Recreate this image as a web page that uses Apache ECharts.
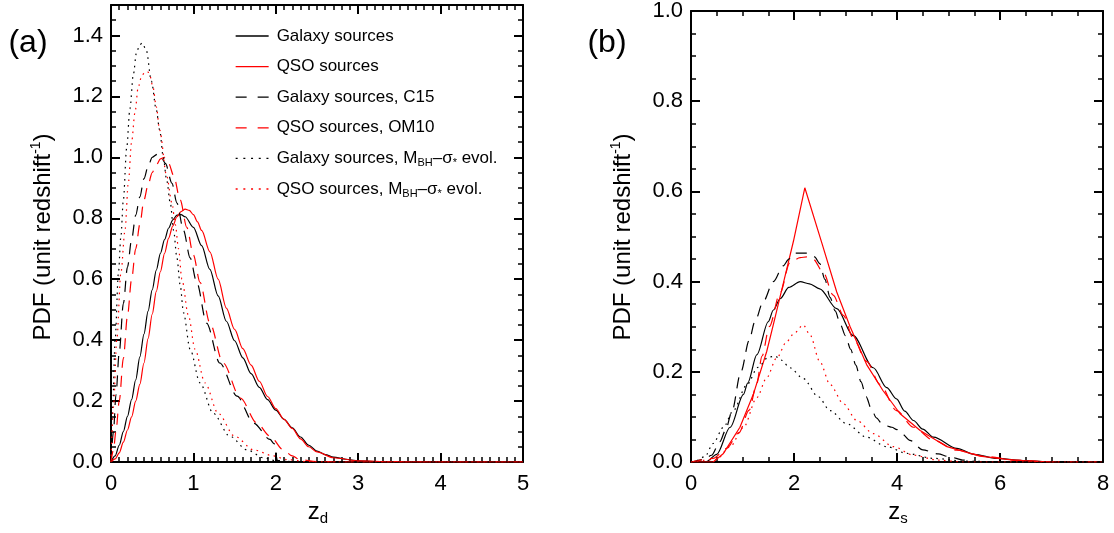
<!DOCTYPE html>
<html>
<head>
<meta charset="utf-8">
<script src="https://cdn.jsdelivr.net/npm/echarts@6/dist/echarts.min.js"></script>
<style>
  html, body { margin: 0; padding: 0; background: #fff; }
  #chart { width: 1114px; height: 533px; }
</style>
</head>
<body>
<div id="chart"></div>
<script>
// ---- Panel (a): lens redshift z_d ----
const galaxyA = [[0,0],[0.05,0.02],[0.1,0.055],[0.15,0.1],[0.2,0.15],[0.25,0.205],[0.3,0.27],[0.35,0.345],[0.4,0.42],[0.45,0.495],[0.5,0.565],[0.55,0.63],[0.6,0.685],[0.65,0.73],[0.7,0.768],[0.75,0.795],[0.8,0.81],[0.85,0.812],[0.9,0.805],[1.0,0.77],[1.1,0.71],[1.2,0.632],[1.3,0.545],[1.4,0.462],[1.5,0.398],[1.6,0.342],[1.7,0.29],[1.8,0.245],[1.9,0.205],[2.0,0.17],[2.1,0.14],[2.2,0.112],[2.3,0.082],[2.4,0.055],[2.5,0.036],[2.6,0.024],[2.7,0.016],[2.85,0.009],[3.0,0.004],[3.3,0.001],[3.6,0],[5,0]];
const qsoA = [[0,0],[0.05,0.01],[0.1,0.03],[0.15,0.065],[0.2,0.105],[0.25,0.148],[0.3,0.2],[0.35,0.255],[0.4,0.325],[0.45,0.405],[0.5,0.485],[0.55,0.56],[0.6,0.625],[0.65,0.685],[0.7,0.735],[0.75,0.775],[0.8,0.805],[0.85,0.822],[0.9,0.83],[0.95,0.826],[1.0,0.812],[1.05,0.788],[1.1,0.76],[1.2,0.69],[1.3,0.6],[1.4,0.505],[1.5,0.435],[1.6,0.372],[1.7,0.318],[1.8,0.265],[1.9,0.215],[2.0,0.175],[2.1,0.14],[2.2,0.11],[2.3,0.076],[2.4,0.05],[2.5,0.033],[2.7,0.014],[3.0,0.004],[3.4,0.001],[3.8,0],[5,0]];
const galaxyC15A = [[0,0],[0.03,0.1],[0.06,0.22],[0.1,0.36],[0.15,0.52],[0.2,0.64],[0.25,0.73],[0.3,0.81],[0.35,0.87],[0.4,0.93],[0.45,0.97],[0.5,1.0],[0.56,1.01],[0.6,1.005],[0.66,0.98],[0.74,0.915],[0.8,0.85],[0.88,0.76],[0.96,0.67],[1.04,0.59],[1.16,0.456],[1.32,0.325],[1.53,0.216],[1.73,0.128],[1.93,0.074],[1.98,0.06],[2.02,0.005],[2.2,0.001],[2.6,0],[5,0]];
const qsoOM10A = [[0,0],[0.03,0.04],[0.06,0.1],[0.1,0.2],[0.15,0.34],[0.2,0.48],[0.25,0.6],[0.3,0.7],[0.35,0.78],[0.4,0.86],[0.45,0.91],[0.5,0.95],[0.55,0.975],[0.6,0.995],[0.65,1.0],[0.7,0.98],[0.76,0.94],[0.84,0.86],[0.92,0.77],[1.0,0.68],[1.08,0.59],[1.2,0.456],[1.36,0.325],[1.57,0.21],[1.77,0.128],[1.93,0.085],[2.09,0.04],[2.2,0.02],[2.29,0.008],[2.5,0.001],[2.8,0],[5,0]];
const galaxyEvoA = [[0,0],[0.02,0.18],[0.05,0.4],[0.09,0.62],[0.12,0.74],[0.15,0.86],[0.19,1.03],[0.23,1.16],[0.27,1.27],[0.31,1.345],[0.35,1.37],[0.38,1.375],[0.43,1.35],[0.49,1.25],[0.55,1.156],[0.59,1.09],[0.635,1.0],[0.675,0.926],[0.72,0.85],[0.76,0.76],[0.8,0.67],[0.84,0.58],[0.88,0.49],[0.96,0.37],[1.08,0.26],[1.24,0.16],[1.44,0.085],[1.65,0.04],[1.85,0.014],[2.0,0.004],[2.3,0],[5,0]];
const qsoEvoA = [[0,0],[0.03,0.18],[0.07,0.4],[0.12,0.62],[0.17,0.76],[0.21,0.915],[0.25,1.05],[0.29,1.145],[0.33,1.23],[0.37,1.265],[0.41,1.28],[0.45,1.28],[0.47,1.27],[0.51,1.23],[0.55,1.166],[0.59,1.09],[0.675,0.94],[0.74,0.85],[0.78,0.78],[0.82,0.7],[0.86,0.6],[0.94,0.48],[1.02,0.37],[1.14,0.26],[1.3,0.16],[1.5,0.085],[1.73,0.04],[1.97,0.02],[2.13,0.008],[2.4,0.001],[2.7,0],[5,0]];

// ---- Panel (b): source redshift z_s ----
const galaxyB = [[0,0],[0.3,0.001],[0.5,0.017],[0.76,0.077],[1.02,0.15],[1.1,0.175],[1.28,0.238],[1.5,0.311],[1.6,0.337],[1.73,0.362],[1.9,0.387],[2.12,0.4],[2.3,0.395],[2.5,0.384],[2.83,0.34],[3.15,0.28],[3.54,0.209],[3.8,0.165],[3.99,0.14],[4.15,0.113],[4.32,0.092],[4.5,0.073],[4.71,0.055],[5.16,0.03],[5.5,0.017],[5.94,0.008],[6.5,0.003],[7,0],[8,0]];
const qsoB = [[0,0],[0.43,0],[0.63,0.019],[0.95,0.077],[1.21,0.15],[1.47,0.245],[1.6,0.305],[1.79,0.395],[1.99,0.49],[2.21,0.608],[2.54,0.486],[2.83,0.377],[3.09,0.3],[3.41,0.216],[3.73,0.158],[4.06,0.107],[4.45,0.07],[4.97,0.034],[5.61,0.013],[6.26,0.004],[7,0]];
const galaxyC15B = [[0,0],[0.05,0.001],[0.25,0.006],[0.4,0.015],[0.56,0.045],[0.67,0.07],[0.79,0.11],[0.97,0.2],[1.13,0.27],[1.24,0.311],[1.4,0.355],[1.6,0.4],[1.79,0.435],[1.9,0.45],[2.02,0.463],[2.25,0.463],[2.4,0.455],[2.5,0.44],[2.6,0.405],[2.7,0.365],[2.8,0.335],[2.9,0.305],[3.0,0.28],[3.1,0.25],[3.2,0.215],[3.3,0.178],[3.4,0.145],[3.5,0.118],[3.6,0.098],[3.7,0.086],[3.8,0.08],[3.9,0.077],[4.0,0.072],[4.1,0.062],[4.25,0.048],[4.5,0.027],[4.8,0.018],[5.0,0.012],[5.3,0.004],[5.6,0],[8,0]];
const qsoOM10B = [[0,0],[0.43,0.008],[0.69,0.03],[0.93,0.065],[1.13,0.115],[1.27,0.17],[1.38,0.235],[1.52,0.3],[1.73,0.375],[1.92,0.442],[2.12,0.453],[2.25,0.455],[2.37,0.45],[2.57,0.42],[2.76,0.37],[2.96,0.325],[3.15,0.274],[3.41,0.223],[3.67,0.172],[3.99,0.114],[4.32,0.077],[4.71,0.048],[5.16,0.026],[5.74,0.012],[6.3,0.004],[7,0],[8,0]];
const galaxyEvoB = [[0,0],[0.1,0.003],[0.27,0.012],[0.43,0.041],[0.63,0.077],[0.82,0.114],[1.08,0.17],[1.3,0.21],[1.5,0.232],[1.63,0.235],[1.75,0.226],[1.92,0.209],[2.18,0.185],[2.47,0.145],[2.7,0.114],[3.02,0.085],[3.41,0.055],[3.8,0.034],[4.19,0.019],[4.71,0.008],[5.3,0.002],[6,0],[8,0]];
const qsoEvoB = [[0,0],[0.5,0.006],[0.76,0.034],[1.02,0.077],[1.28,0.143],[1.47,0.187],[1.66,0.23],[1.86,0.267],[2.0,0.285],[2.18,0.304],[2.31,0.282],[2.5,0.223],[2.7,0.172],[2.96,0.129],[3.22,0.092],[3.54,0.063],[3.93,0.034],[4.32,0.015],[4.8,0.004],[5.3,0],[8,0]];

// Legend entries (series names) and their rich-text labels
const seriesNames = [
  'Galaxy sources',
  'QSO sources',
  'Galaxy sources, C15',
  'QSO sources, OM10',
  'Galaxy sources, MBH-sigma evol.',
  'QSO sources, MBH-sigma evol.'
];
const legendLabels = [
  'Galaxy sources',
  'QSO sources',
  'Galaxy sources, C15',
  'QSO sources, OM10',
  'Galaxy sources, M{sub|BH}\u2013\u03c3{sub|*} evol.',
  'QSO sources, M{sub|BH}\u2013\u03c3{sub|*} evol.'
];

// Axis ranges and tick spacing
const zdRange = { max: 5, major: 1, minor: 0.1 };
const zsRange = { max: 8, major: 2, minor: 0.5 };
const pdfRangeA = { max: 1.5, major: 0.2, minor: 0.05 };
const pdfRangeB = { max: 1.0, major: 0.2, minor: 0.05 };

const FONT = "'Liberation Sans', Arial, Helvetica, sans-serif";
const BLACK = '#000000';
const RED = '#ff0000';
const DASH = [11, 8];
const DOT = [1.6, 4.4];
const LEGEND_DASH = [11, 11];
const LEGEND_DOT = [2, 5.7];

const xAxes = [];
const yAxes = [];

// Builds a boxed frame: labelled major axis plus unlabelled minor-tick axis on each side
function addAxes(list, dim, gridIndex, range, labelFmt) {
  const sides = dim === 'x' ? ['bottom', 'top'] : ['left', 'right'];
  const rem = range.max % range.major;
  const maxOnTick = rem < 1e-9 || Math.abs(rem - range.major) < 1e-9;
  let mainIndex = -1;
  sides.forEach((pos, s) => {
    if (s === 0) mainIndex = list.length;
    list.push({
      type: 'value', gridIndex, position: pos, min: 0, max: range.max, interval: range.major,
      axisLine: { show: true, onZero: false, lineStyle: { color: BLACK, width: 2 } },
      axisTick: { show: true, inside: true, length: 9, lineStyle: { color: BLACK, width: 2 } },
      axisLabel: {
        show: s === 0, color: BLACK, fontFamily: FONT, fontSize: 22,
        margin: dim === 'x' ? 11 : 8, formatter: labelFmt, showMaxLabel: maxOnTick
      },
      splitLine: { show: false }
    });
    list.push({
      type: 'value', gridIndex, position: pos, min: 0, max: range.max, interval: range.minor,
      axisLine: { show: false, onZero: false },
      axisTick: { show: true, inside: true, length: 5, lineStyle: { color: BLACK, width: 1.5 } },
      axisLabel: { show: false },
      splitLine: { show: false }
    });
  });
  return mainIndex;
}

const xFmt = v => String(Math.round(v));
const yFmt = v => v.toFixed(1);

const xA = addAxes(xAxes, 'x', 0, zdRange, xFmt);
const yA = addAxes(yAxes, 'y', 0, pdfRangeA, yFmt);
const xB = addAxes(xAxes, 'x', 1, zsRange, xFmt);
const yB = addAxes(yAxes, 'y', 1, pdfRangeB, yFmt);

function line(nameIdx, data, color, type, xi, yi, smooth) {
  return {
    type: 'line', name: seriesNames[nameIdx], data, xAxisIndex: xi, yAxisIndex: yi,
    symbol: 'none', showSymbol: false, smooth: smooth === undefined ? 0.3 : smooth,
    smoothMonotone: 'x', clip: true,
    lineStyle: { color, width: 1.2, type },
    itemStyle: { color },
    emphasis: { disabled: true }
  };
}

const series = [
  line(0, galaxyA, BLACK, 'solid', xA, yA),
  line(1, qsoA, RED, 'solid', xA, yA),
  line(2, galaxyC15A, BLACK, DASH, xA, yA),
  line(3, qsoOM10A, RED, DASH, xA, yA),
  line(4, galaxyEvoA, BLACK, DOT, xA, yA),
  line(5, qsoEvoA, RED, DOT, xA, yA),
  line(0, galaxyB, BLACK, 'solid', xB, yB),
  line(1, qsoB, RED, 'solid', xB, yB, false),
  line(2, galaxyC15B, BLACK, DASH, xB, yB),
  line(3, qsoOM10B, RED, DASH, xB, yB),
  line(4, galaxyEvoB, BLACK, DOT, xB, yB),
  line(5, qsoEvoB, RED, DOT, xB, yB)
];

const legendStyles = [
  [BLACK, 'solid'], [RED, 'solid'], [BLACK, LEGEND_DASH], [RED, LEGEND_DASH], [BLACK, LEGEND_DOT], [RED, LEGEND_DOT]
];
const legendData = seriesNames.map((name, i) => ({
  name,
  itemStyle: { opacity: 0 },
  lineStyle: { color: legendStyles[i][0], type: legendStyles[i][1], width: 1.3 }
}));

const titleRich = {
  n: { fontSize: 24, fontFamily: FONT, fill: BLACK, color: BLACK, lineHeight: 28, verticalAlign: 'middle' },
  sup: { fontSize: 14, fontFamily: FONT, fill: BLACK, color: BLACK, lineHeight: 14, verticalAlign: 'top' },
  sub: { fontSize: 15, fontFamily: FONT, fill: BLACK, color: BLACK, lineHeight: 15, verticalAlign: 'bottom' }
};

function textEl(x, y, text, size, rotation) {
  return {
    type: 'text', x, y, rotation: rotation || 0, silent: true,
    style: {
      text, rich: titleRich, fontSize: size, fontFamily: FONT, fill: BLACK,
      align: 'center', verticalAlign: 'middle'
    }
  };
}

const option = {
  animation: false,
  backgroundColor: '#ffffff',
  grid: [
    { left: 111, top: 5, width: 412, height: 457 },
    { left: 691, top: 5, width: 412, height: 457 }
  ],
  xAxis: xAxes,
  yAxis: yAxes,
  legend: {
    data: legendData,
    orient: 'vertical', left: 230, top: 21,
    itemWidth: 33, itemHeight: 14, itemGap: 10.6,
    selectedMode: false,
    formatter: name => legendLabels[seriesNames.indexOf(name)],
    textStyle: {
      color: BLACK, fontFamily: FONT, fontSize: 17, lineHeight: 20, padding: [0, 0, 0, 3],
      rich: {
        sub: { fontSize: 11, fontFamily: FONT, color: BLACK, lineHeight: 11, verticalAlign: 'bottom' }
      }
    }
  },
  graphic: [
    textEl(28, 43, '(a)', 32),
    textEl(607, 43, '(b)', 32),
    textEl(43, 237, '{n|PDF (unit redshift}{sup|-1}{n|)}', 24, Math.PI / 2),
    textEl(623, 237, '{n|PDF (unit redshift}{sup|-1}{n|)}', 24, Math.PI / 2),
    textEl(318, 512, '{n|z}{sub|d}', 24),
    textEl(898, 512, '{n|z}{sub|s}', 24)
  ],
  series
};

const chart = echarts.init(document.getElementById('chart'), null, { renderer: 'canvas' });
chart.setOption(option);
</script>
</body>
</html>
